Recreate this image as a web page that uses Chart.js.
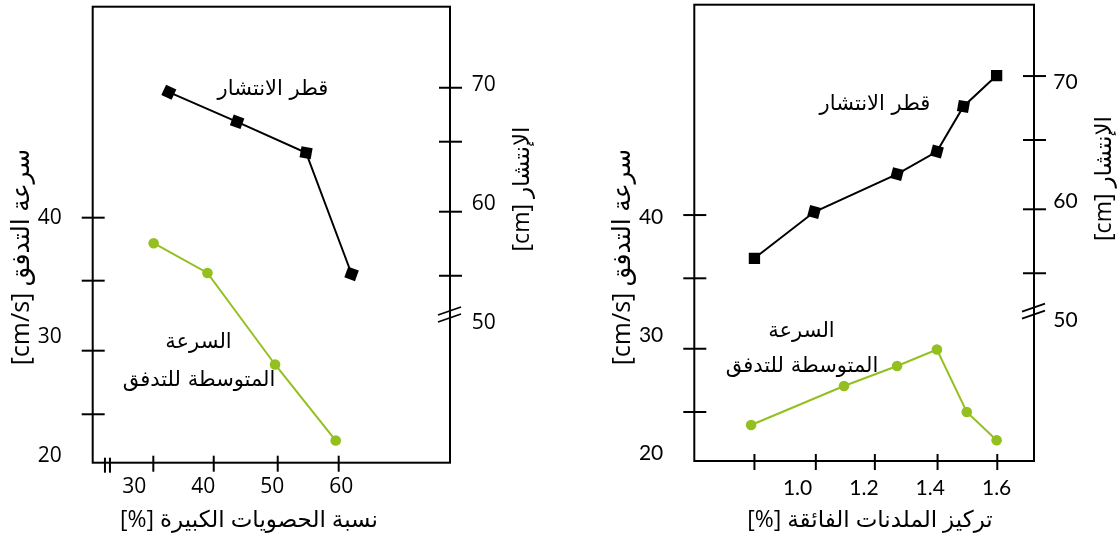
<!DOCTYPE html>
<html>
<head>
<meta charset="utf-8">
<script src="https://cdn.jsdelivr.net/npm/chart.js@4"></script>
<style>
  html, body { margin: 0; padding: 0; background: #fff; }
  #wrap { position: relative; width: 1119px; height: 542px; overflow: hidden; }
  #chartA { position: absolute; left: 0; top: 0; }
  #chartB { position: absolute; left: 560px; top: 0; }
</style>
</head>
<body>
<div id="wrap">
  <canvas id="chartA" width="560" height="542"></canvas>
  <canvas id="chartB" width="559" height="542"></canvas>
</div>
<script>
// Panel A: coarse aggregate ratio [%]
const aggRatioSpread = [35.0, 44.9, 54.9, 61.5];
const spreadDiamA = [69.4, 66.9, 64.3, 54.1];
const aggRatioSpeed = [32.8, 40.6, 50.4, 59.2];
const flowSpeedA = [37.9, 35.4, 27.7, 21.3];

// Panel B: superplasticizer dosage [%]
const spDoseSpread = [0.87, 1.05, 1.30, 1.42, 1.50, 1.60];
const spreadDiamB = [55.2, 59.1, 62.3, 64.2, 68.0, 70.6];
const spDoseSpeed = [0.86, 1.14, 1.30, 1.42, 1.51, 1.60];
const flowSpeedB = [22.4, 25.7, 27.4, 28.8, 23.5, 21.1];

// tick labels
const speedTicks = [20, 30, 40];
const spreadTicks = [50, 60, 70];
const aggTicks = [30, 40, 50, 60];
const spTicks = [1.0, 1.2, 1.4, 1.6];

// tick marks as printed (they don't sit on the labels in the original)
const speedMarksA = [40.05, 34.75, 28.86, 23.51];
const spreadMarksA = [69.77, 65.23, 59.34, 53.95];
const aggMarks = [32.75, 41.51, 50.79, 59.63];
const speedMarksB = [40.19, 34.83, 28.86, 23.50];
const spreadMarksB = [70.56, 65.17, 59.33, 53.94];
const spMarks = [0.87, 1.055, 1.233, 1.422, 1.602];
const aggBreak = 26.1;
const spreadBreakA = 50.65;
const spreadBreakB = 50.7;

// text
const speedTitle = 'سرعة التدفق [cm/s]';
const spreadTitle = 'الإنتشار [cm]';
const aggTitle = 'نسبة الحصويات الكبيرة [%]';
const spTitle = 'تركيز الملدنات الفائقة [%]';
const spreadLabel = 'قطر الانتشار';
const speedLabel1 = 'السرعة';
const speedLabel2 = 'المتوسطة للتدفق';

const GREEN = '#93c01f';
const AR_FONT = "'DejaVu Sans', sans-serif";

function pts(xs, ys) {
  return xs.map((x, i) => ({ x: x, y: ys[i] }));
}

function fixTicks(values) {
  return scale => { scale.ticks = values.map(v => ({ value: v })); };
}

function drawText(ctx, text, x, y, font, rot) {
  ctx.save();
  ctx.translate(x, y);
  if (rot) ctx.rotate(rot);
  ctx.font = font;
  ctx.direction = 'rtl';
  ctx.textAlign = 'center';
  ctx.textBaseline = 'middle';
  ctx.fillStyle = '#000';
  ctx.fillText(text, 0, 0);
  ctx.restore();
}

function line(ctx, x1, y1, x2, y2) {
  ctx.beginPath();
  ctx.moveTo(x1, y1);
  ctx.lineTo(x2, y2);
  ctx.stroke();
}

// box, tick marks crossing the frame, axis breaks, titles and labels
function framePlugin(cfg) {
  return {
    id: 'frame',
    beforeDatasetsDraw(chart) {
      const { ctx, chartArea: a, scales } = chart;
      ctx.save();
      ctx.strokeStyle = '#000';
      ctx.lineWidth = 2;
      ctx.strokeRect(a.left, a.top, a.right - a.left, a.bottom - a.top);
      cfg.leftMarks.forEach(v => {
        const y = scales.y.getPixelForValue(v);
        line(ctx, a.left - 11, y, a.left + 12, y);
      });
      cfg.rightMarks.forEach(v => {
        const y = scales.y2.getPixelForValue(v);
        line(ctx, a.right - 11, y, a.right + 12, y);
      });
      cfg.xMarks.forEach(v => {
        const x = scales.x.getPixelForValue(v);
        line(ctx, x, a.bottom - 7, x, a.bottom + 9);
      });
      if (cfg.xBreak != null) {
        const x = scales.x.getPixelForValue(cfg.xBreak);
        line(ctx, x - 2.5, a.bottom - 5, x - 2.5, a.bottom + 10);
        line(ctx, x + 2.5, a.bottom - 5, x + 2.5, a.bottom + 10);
      }
      const yb = scales.y2.getPixelForValue(cfg.yBreak);
      ctx.lineWidth = 1.8;
      line(ctx, a.right - 12, yb + 0, a.right + 11, yb - 8);
      line(ctx, a.right - 12, yb + 7, a.right + 11, yb - 1);
      ctx.restore();
    },
    afterDraw(chart) {
      const ctx = chart.ctx;
      drawText(ctx, speedTitle, cfg.leftTitle[0], cfg.leftTitle[1], "25px 'Open Sans', " + AR_FONT, -Math.PI / 2);
      drawText(ctx, spreadTitle, cfg.rightTitle[0], cfg.rightTitle[1], "23px 'Open Sans', " + AR_FONT, -Math.PI / 2);
      drawText(ctx, cfg.xTitle, cfg.xTitlePos[0], cfg.xTitlePos[1], "23px 'Open Sans', " + AR_FONT, 0);
      const f = '21px ' + AR_FONT;
      drawText(ctx, spreadLabel, cfg.spreadLabel[0], cfg.spreadLabel[1], f, 0);
      drawText(ctx, speedLabel1, cfg.speedLabel1[0], cfg.speedLabel1[1], f, 0);
      drawText(ctx, speedLabel2, cfg.speedLabel2[0], cfg.speedLabel2[1], f, 0);
    }
  };
}

function makeChart(id, p) {
  const numFont = { family: p.numFamily, size: 21 };
  const noPad = s => { s.paddingTop = 0; s.paddingBottom = 0; };
  return new Chart(document.getElementById(id), {
    type: 'line',
    data: {
      datasets: [
        {
          data: p.spread,
          yAxisID: 'y2',
          borderColor: '#000',
          borderWidth: 2,
          backgroundColor: '#000',
          pointStyle: 'rect',
          pointRadius: 8,
          pointRotation: p.rot,
          pointBorderWidth: 0,
          tension: 0
        },
        {
          data: p.speed,
          yAxisID: 'y',
          borderColor: GREEN,
          borderWidth: 2,
          backgroundColor: GREEN,
          pointStyle: 'circle',
          pointRadius: 5.3,
          pointBorderWidth: 0,
          tension: 0
        }
      ]
    },
    options: {
      responsive: false,
      animation: false,
      layout: { autoPadding: false, padding: { top: p.top, left: 0, right: 0, bottom: 0 } },
      plugins: { legend: { display: false }, tooltip: { enabled: false } },
      scales: {
        x: {
          type: 'linear',
          min: p.xMin,
          max: p.xMax,
          afterBuildTicks: fixTicks(p.xTicks),
          afterFit: s => { s.height = p.xHeight; s.paddingLeft = 0; s.paddingRight = 0; },
          grid: { display: false, drawTicks: false },
          border: { display: false },
          ticks: {
            color: '#000',
            font: numFont,
            padding: p.xPad,
            maxRotation: 0,
            autoSkip: false,
            callback: p.xFmt
          }
        },
        y: {
          position: 'left',
          min: p.yMin,
          max: p.yMax,
          afterBuildTicks: fixTicks(speedTicks),
          afterFit: s => { s.width = p.leftW; noPad(s); },
          grid: { display: false, drawTicks: false },
          border: { display: false },
          ticks: { color: '#000', font: numFont, padding: p.yPad }
        },
        y2: {
          position: 'right',
          min: p.y2Min,
          max: p.y2Max,
          afterBuildTicks: fixTicks(spreadTicks),
          afterFit: s => { s.width = p.rightW; noPad(s); },
          grid: { display: false, drawTicks: false },
          border: { display: false },
          ticks: { color: '#000', font: numFont, padding: p.y2Pad }
        }
      }
    },
    plugins: [framePlugin(p.frame)]
  });
}

makeChart('chartA', {
  spread: pts(aggRatioSpread, spreadDiamA),
  speed: pts(aggRatioSpeed, flowSpeedA),
  rot: [25, 20, 10, 20],
  numFamily: "'Open Sans'",
  top: 6.7, leftW: 92.7, rightW: 110, xHeight: 79.3,
  xMin: 23.96, xMax: 75.77, yMin: 19.436, yMax: 57.80, y2Min: 38.22, y2Max: 76.59,
  xTicks: aggTicks, xFmt: v => String(v),
  xPad: 12, yPad: 31, y2Pad: 21.7,
  frame: {
    leftMarks: speedMarksA, rightMarks: spreadMarksA, xMarks: aggMarks,
    xBreak: aggBreak, yBreak: spreadBreakA,
    leftTitle: [22, 257], rightTitle: [522, 189],
    xTitle: aggTitle, xTitlePos: [249, 520],
    spreadLabel: [273, 90], speedLabel1: [198.5, 343], speedLabel2: [199, 381]
  }
});

makeChart('chartB', {
  spread: pts(spDoseSpread, spreadDiamB),
  speed: pts(spDoseSpeed, flowSpeedB),
  rot: [0, 15, 15, 15, 10, 0],
  numFamily: "Lato",
  top: 4.7, leftW: 134.3, rightW: 85, xHeight: 81,
  xMin: 0.6887, xMax: 1.7127, yMin: 19.347, yMax: 58.017, y2Min: 38.116, y2Max: 76.574,
  xTicks: spTicks, xFmt: v => v.toFixed(1),
  xPad: 15, yPad: 31, y2Pad: 19.3,
  frame: {
    leftMarks: speedMarksB, rightMarks: spreadMarksB, xMarks: spMarks,
    xBreak: null, yBreak: spreadBreakB,
    leftTitle: [63, 257], rightTitle: [544, 178.5],
    xTitle: spTitle, xTitlePos: [310, 520],
    spreadLabel: [315, 105], speedLabel1: [241.5, 332], speedLabel2: [242, 367]
  }
});
</script>
</body>
</html>
